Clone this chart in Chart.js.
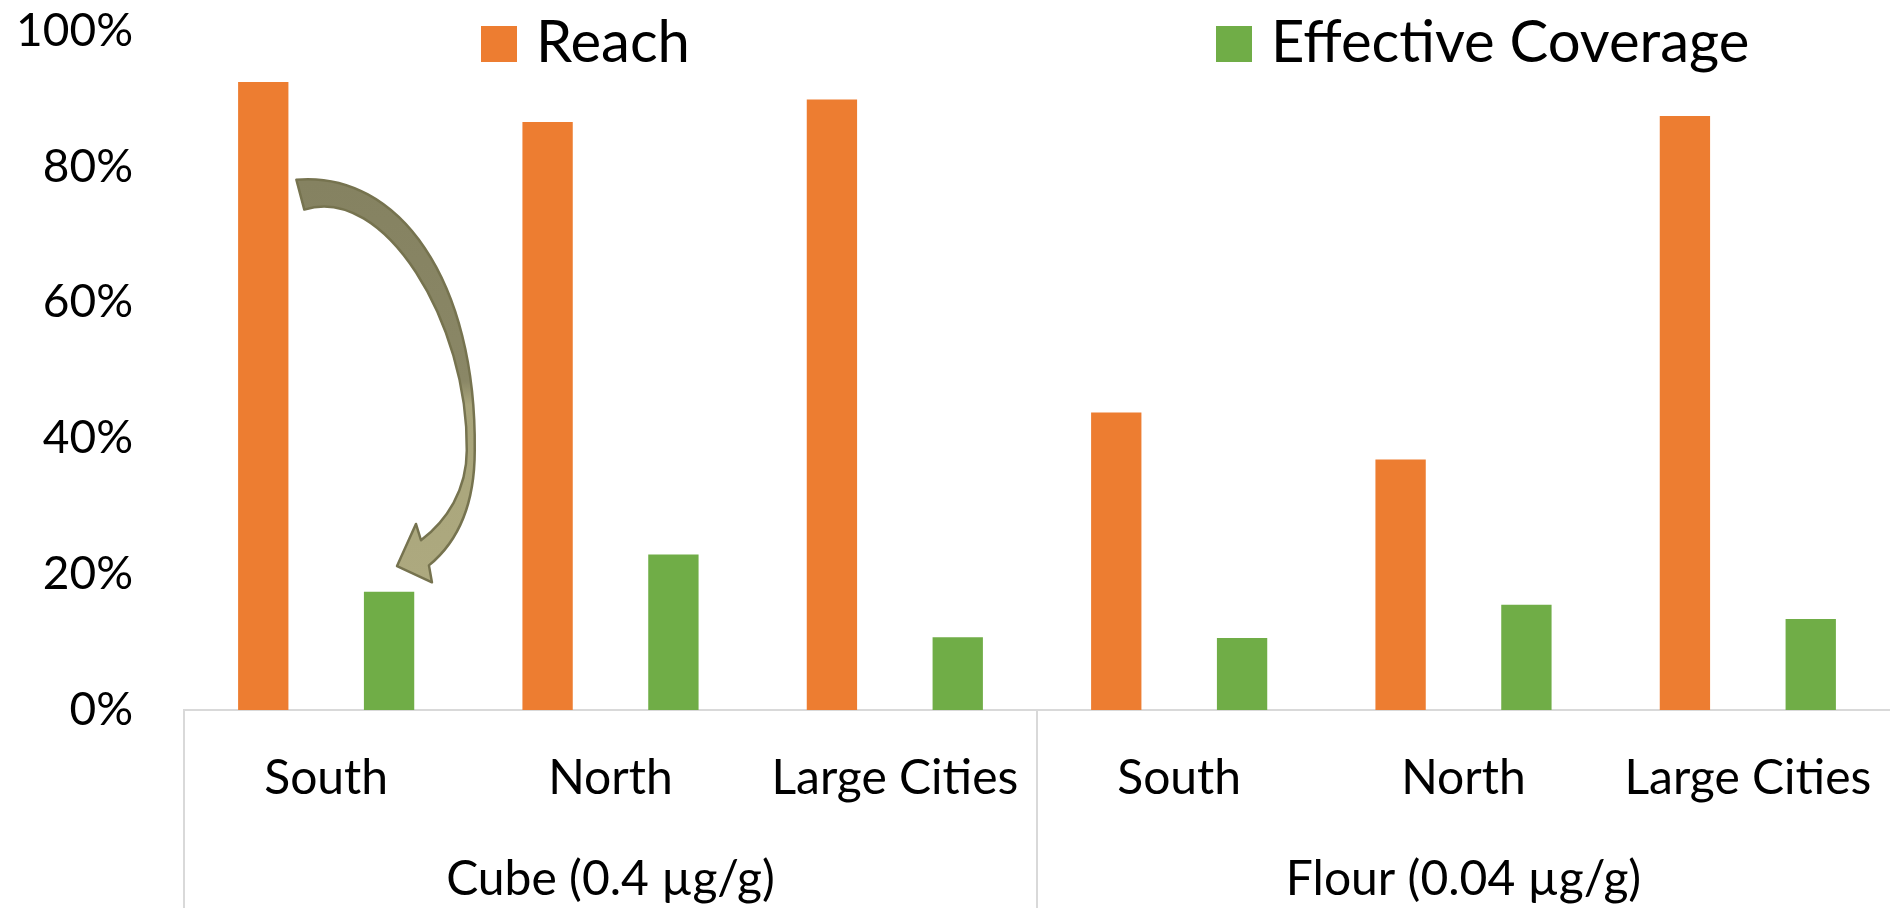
<!DOCTYPE html>
<html lang="en">
<head>
<meta charset="UTF-8">
<title>Reach vs Effective Coverage</title>
<script src="https://cdn.jsdelivr.net/npm/chart.js"></script>
<style>
  html, body { margin: 0; padding: 0; background: #fff; }
  #wrap { width: 1890px; height: 908px; }
</style>
</head>
<body>
<div id="wrap"><canvas id="coverageChart"></canvas></div>
<script>
  // data
  const regions = ['South', 'North', 'Large Cities', 'South', 'North', 'Large Cities'];
  const groups = ['Cube (0.4 µg/g)', 'Flour (0.04 µg/g)'];
  const reach = [0.925, 0.866, 0.899, 0.438, 0.369, 0.875];
  const effectiveCoverage = [0.174, 0.229, 0.107, 0.106, 0.155, 0.134];

  const ORANGE = '#ED7D31';
  const GREEN = '#70AD47';
  const AXIS_GREY = '#D9D9D9';
  const FONT = 'Lato';

  // legend, group dividers and the curved arrow
  const extras = {
    id: 'extras',
    afterDatasetsDraw(chart) {
      const ctx = chart.ctx;
      const y = chart.scales.y;
      const a = chart.getDatasetMeta(0).data[0];
      const b = chart.getDatasetMeta(1).data[0];
      const x0 = a.x + a.width / 2;
      const span = b.x - x0;
      const P = (nx, v) => [x0 + nx * span, y.getPixelForValue(v)];

      const t1 = P(0.079, 0.781), t2 = P(0.158, 0.737);
      const m1 = P(1.851, 0.382), m2 = P(1.772, 0.382);
      const j1 = P(1.317, 0.250), j2 = P(1.396, 0.213);
      const tip = P(1.079, 0.212), barbIn = P(1.267, 0.274), barbOut = P(1.426, 0.188);

      ctx.save();
      ctx.beginPath();
      ctx.moveTo(...t1);
      ctx.bezierCurveTo(...P(1.099, 0.794), ...P(1.871, 0.632), ...m1);
      ctx.bezierCurveTo(...P(1.851, 0.294), ...P(1.644, 0.243), ...j2);
      ctx.lineTo(...barbOut);
      ctx.lineTo(...tip);
      ctx.lineTo(...barbIn);
      ctx.lineTo(...j1);
      ctx.bezierCurveTo(...P(1.574, 0.279), ...P(1.772, 0.324), ...m2);
      ctx.bezierCurveTo(...P(1.79, 0.57), ...P(0.95, 0.775), ...t2);
      ctx.closePath();
      const g = ctx.createLinearGradient(0, t1[1], 0, barbOut[1]);
      g.addColorStop(0, '#858261');
      g.addColorStop(0.5, '#8A8766');
      g.addColorStop(0.56, '#A9A57B');
      g.addColorStop(1, '#ADA97F');
      ctx.fillStyle = g;
      ctx.fill();
      ctx.lineWidth = 2.5;
      ctx.lineJoin = 'round';
      ctx.strokeStyle = '#76734F';
      ctx.stroke();
      ctx.restore();
    },
    afterDraw(chart, args, opts) {
      const ctx = chart.ctx;
      const x = chart.scales.x;
      ctx.save();

      // vertical dividers between the two product groups
      const mid = (x.getPixelForTick(2) + x.getPixelForTick(3)) / 2;
      ctx.strokeStyle = AXIS_GREY;
      ctx.lineWidth = 2;
      [x.left, mid].forEach(px => {
        ctx.beginPath();
        ctx.moveTo(px, x.top);
        ctx.lineTo(px, chart.height);
        ctx.stroke();
      });

      // legend
      ctx.font = opts.fontSize + 'px ' + FONT;
      ctx.textBaseline = 'alphabetic';
      chart.data.datasets.forEach((ds, i) => {
        const lx = opts.itemX[i];
        ctx.fillStyle = ds.backgroundColor;
        ctx.fillRect(lx, opts.boxTop, opts.boxSize, opts.boxSize);
        ctx.fillStyle = '#000';
        ctx.fillText(ds.label, lx + opts.textGap, opts.baseline);
      });
      ctx.restore();
    }
  };

  new Chart(document.getElementById('coverageChart'), {
    type: 'bar',
    data: {
      labels: regions,
      datasets: [
        { label: 'Reach', data: reach, backgroundColor: ORANGE,
          categoryPercentage: 0.885, barPercentage: 0.40 },
        { label: 'Effective Coverage', data: effectiveCoverage, backgroundColor: GREEN,
          categoryPercentage: 0.885, barPercentage: 0.40 }
      ]
    },
    options: {
      responsive: true,
      maintainAspectRatio: false,
      animation: false,
      layout: { padding: { top: 31, right: 0, bottom: 0, left: 0 } },
      plugins: {
        legend: { display: false },
        tooltip: { enabled: false },
        extras: { itemX: [481, 1216], boxTop: 26, boxSize: 36, textGap: 55, baseline: 62, fontSize: 58 }
      },
      scales: {
        y: {
          min: 0,
          max: 1,
          // invisible tick marks used only as the gap between labels and plot
          grid: { display: false, drawTicks: true, tickLength: 51 },
          border: { display: false },
          ticks: {
            stepSize: 0.2,
            padding: 0,
            color: '#000',
            font: { family: FONT, size: 46 },
            callback: v => Math.round(v * 100) + '%'
          },
          afterFit: s => { s.width = 184; }
        },
        x: {
          grid: { display: false, drawTicks: true, tickLength: 40 },
          border: { color: AXIS_GREY, width: 2 },
          ticks: {
            padding: 0,
            color: '#000',
            autoSkip: false,
            maxRotation: 0,
            font: { family: FONT, size: 48 }
          },
          afterFit: s => { s.height = 96; }
        },
        group: {
          type: 'category',
          position: 'bottom',
          labels: groups,
          offset: true,
          grid: { display: false, drawTicks: true, tickLength: 45 },
          border: { display: false },
          ticks: {
            padding: 0,
            color: '#000',
            maxRotation: 0,
            font: { family: FONT, size: 48 }
          },
          afterFit: s => { s.height = 102; }
        }
      }
    },
    plugins: [extras]
  });
</script>
</body>
</html>
